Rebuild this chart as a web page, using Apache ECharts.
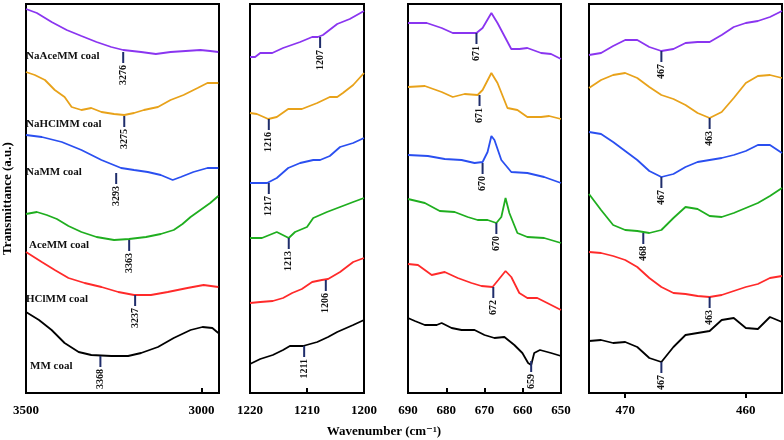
<!DOCTYPE html>
<html>
<head>
<meta charset="utf-8">
<script src="https://cdn.jsdelivr.net/npm/echarts@6/dist/echarts.min.js"></script>
<style>html,body{margin:0;padding:0;background:#fff}#c{width:784px;height:440px}</style>
</head>
<body>
<div id="c"></div>
<script>
// ---------- DATA ----------
const seriesNames = ['NaAceMM coal','NaHClMM coal','NaMM coal','AceMM coal','HClMM coal','MM coal'];
const seriesColors = ['#8a35f0','#e8a21a','#2a4ff0','#1fae1f','#ff2a2a','#000000'];

// Panel 1: 3500-2950 cm-1 (pairs: [wavenumber, transmittance a.u. incl. offset])
const oh_NaAceMM = [[3500,384],[3469,380],[3427,371],[3384,363],[3342,357],[3299,351],[3257,346],[3223,343],[3172,341],[3130,339],[3088,341],[3045,342],[3003,343],[2975,342],[2952,341]];
const oh_NaHClMM = [[3500,321],[3475,318],[3446,313],[3418,303],[3390,296],[3370,286],[3342,283],[3314,285],[3285,281],[3249,279],[3220,278],[3192,280],[3164,283],[3124,286],[3088,293],[3051,298],[3011,305],[2983,310],[2952,310]];
const oh_NaMM = [[3500,258],[3455,256],[3398,251],[3342,243],[3285,233],[3229,225],[3192,223],[3153,221],[3116,218],[3082,213],[3059,216],[3023,221],[2983,225],[2952,225]];
const oh_AceMM = [[3500,179],[3469,181],[3441,178],[3412,174],[3379,167],[3342,161],[3299,156],[3249,153],[3206,154],[3158,156],[3116,159],[3079,163],[3054,169],[3031,176],[3003,183],[2975,190],[2952,197]];
const oh_HClMM = [[3500,141],[3455,131],[3418,123],[3379,115],[3333,110],[3285,106],[3237,101],[3192,98],[3144,98],[3096,101],[3040,105],[2994,108],[2952,106]];
const oh_MM = [[3500,81],[3463,73],[3427,63],[3390,50],[3350,41],[3314,38],[3257,37],[3209,37],[3172,40],[3124,46],[3079,55],[3031,63],[2997,66],[2969,65],[2952,60]];
const oh_marks = [[3223,341,'3276'],[3220,277,'3275'],[3243,220,'3293'],[3206,153,'3363'],[3189,98,'3237'],[3288,37,'3368']];

// Panel 2: 1220-1200 cm-1
const ca_NaAceMM = [[1220,336],[1219.1,336],[1218.2,340],[1216.1,340],[1214.2,345],[1211.2,351],[1209.1,356],[1208.1,356],[1207.2,358],[1204.7,369],[1202.5,374],[1200,382]];
const ca_NaHClMM = [[1220,280],[1218.8,279],[1216.8,274],[1215.3,276],[1213.3,284],[1210.9,284],[1208.2,290],[1206,296],[1204.7,296],[1203.7,300],[1201.9,308],[1200,320]];
const ca_NaMM = [[1220,210],[1217,210],[1215.3,215],[1213.3,225],[1211.2,230],[1208.9,233],[1207.7,233],[1206,237],[1204.2,246],[1201.9,250],[1200,255]];
const ca_AceMM = [[1220,155],[1217.9,155],[1215.3,161],[1213.2,155],[1212.1,161],[1210,166],[1208.9,175],[1206.5,181],[1204.2,186],[1201.9,191],[1200,195]];
const ca_HClMM = [[1220,90],[1218.2,91],[1216,92],[1214.2,95],[1212.6,100],[1210.9,104],[1209.1,111],[1207.4,113],[1206.3,114],[1204.2,121],[1201.9,131],[1200,135]];
const ca_MM = [[1220,29],[1218.2,34],[1216,38],[1214.2,43],[1213,47],[1210.7,47],[1208.2,51],[1206.3,56],[1204.7,61],[1201.9,68],[1200,73]];
const ca_marks = [[1207.7,356,'1207'],[1216.7,274,'1216'],[1216.7,210,'1217'],[1213.2,155,'1213'],[1206.7,113,'1206'],[1210.5,47,'1211']];

// Panel 3: 690-650 cm-1
const cs_NaAceMM = [[690,370],[685.1,370],[681.2,365],[678.3,360],[674.7,360],[672.1,360],[670.5,365],[668.2,380],[666.6,370],[663,344],[660.9,344],[658.8,345],[655.2,340],[652.6,339],[650,334]];
const cs_NaHClMM = [[690,306],[685.6,307],[681.2,301],[678.3,296],[675.2,299],[671.8,298],[670.5,303],[668.2,320],[666.6,310],[664,285],[661.4,283],[658.8,276],[655.2,276],[653.1,277],[650,274]];
const cs_NaMM = [[690,238],[684.8,237],[680.4,234],[676,233],[672.6,230],[670.5,231],[669.2,241],[668.2,257],[667.4,253],[665.6,233],[663,221],[658.8,220],[654.4,216],[650,210]];
const cs_AceMM = [[690,194],[685.6,190],[681.7,182],[677.8,181],[674.4,176],[671.8,173],[669.2,173],[666.9,170],[665.6,176],[664.5,195],[663.5,180],[661.4,160],[658.8,156],[654.4,155],[650,150]];
const cs_HClMM = [[690,129],[687.4,128],[683.8,118],[680.4,121],[677,115],[673.4,110],[670.8,107],[667.9,106],[666.4,113],[664.5,122],[663,116],[660.9,100],[658.8,95],[656.2,95],[653.6,90],[650,83]];
const cs_MM = [[690,75],[688.2,72],[685.6,68],[682.5,68],[681.2,70],[678.6,65],[676,63],[672.6,63],[670,58],[667.4,55],[664.8,56],[662.2,48],[660.1,40],[658.6,30],[657.8,28],[657,40],[655.5,43],[652.6,40],[650,37]];
const cs_marks = [[672.1,360,'671'],[671.3,298,'671'],[670.5,230,'670'],[666.9,170,'670'],[667.7,106,'672'],[657.8,32,'659']];

// Panel 4: 473-457 cm-1
const ml_x = [473,472,471,470,469,468,467,466,465,464,463,462,461,460,459,458,457];
const ml_NaAceMM = [338,340,347,353,353,346,342,344,350,351,351,358,366,370,372,376,382];
const ml_NaHClMM = [305,313,318,320,315,306,298,294,288,280,275,281,295,310,317,318,315];
const ml_NaMM = [261,259,251,242,233,222,216,219,226,231,233,235,238,242,248,248,240];
const ml_AceMM = [199,183,168,163,162,160,163,175,186,184,177,176,180,185,190,197,205];
const ml_HClMM = [141,140,137,133,126,115,106,100,99,97,96,98,102,106,109,115,117];
const ml_MM = [52,53,50,51,46,35,31,46,58,60,62,73,75,65,64,76,71];
const ml_marks = [[467,342,'467'],[463,275,'463'],[467,216,'467'],[468.5,160,'468'],[463,96,'463'],[467,31,'467']];

// tick labels
const ticks1 = [3000,3500];
const ticks4 = [460,470];

// ---------- CHART ----------
const chart = echarts.init(document.getElementById('c'), null, {renderer:'canvas'});
const SERIF = '"Liberation Serif","DejaVu Serif",serif';
const panels = [
  {left:24, width:195, min:2950, max:3500, data:[oh_NaAceMM,oh_NaHClMM,oh_NaMM,oh_AceMM,oh_HClMM,oh_MM], marks:oh_marks, custom:ticks1, tickInside:true},
  {left:250, width:114, min:1200, max:1220, interval:10, data:[ca_NaAceMM,ca_NaHClMM,ca_NaMM,ca_AceMM,ca_HClMM,ca_MM], marks:ca_marks, tickInside:true},
  {left:408, width:153, min:650, max:690, interval:10, data:[cs_NaAceMM,cs_NaHClMM,cs_NaMM,cs_AceMM,cs_HClMM,cs_MM], marks:cs_marks, tickInside:true},
  {left:589, width:193, min:457, max:473, data:[ml_NaAceMM,ml_NaHClMM,ml_NaMM,ml_AceMM,ml_HClMM,ml_MM].map(ys=>ys.map((y,i)=>[ml_x[i],y])), marks:ml_marks, custom:ticks4, tickInside:false}
];

const grid=[], xAxis=[], yAxis=[], series=[];
panels.forEach((p,i)=>{
  grid.push({left:p.left, width:p.width, top:4, height:389, show:true, borderColor:'#000', borderWidth:2, backgroundColor:'transparent'});
  const xa = {type:'value', gridIndex:i, inverse:true, min:p.min, max:p.max,
    axisLine:{show:true, onZero:false, lineStyle:{color:'#000', width:2}},
    axisTick:{show:true, inside:p.tickInside, length:5, lineStyle:{color:'#000', width:2}},
    axisLabel:{color:'#000', fontFamily:SERIF, fontWeight:'bold', fontSize:13, margin:11, showMinLabel:true, showMaxLabel:true,
      formatter:(v)=>String(v)},
    splitLine:{show:false}};
  if (p.interval) xa.interval = p.interval;
  if (p.custom) { xa.axisLabel.customValues = p.custom; xa.axisTick.customValues = p.custom; }
  xAxis.push(xa);
  const ya = {type:'value', gridIndex:i, min:0, max:389, axisLine:{show:false}, axisTick:{show:false}, axisLabel:{show:false}, splitLine:{show:false}};
  if (i===0) {
    Object.assign(ya, {name:'Transmittance (a.u.)', nameLocation:'middle', nameRotate:90, nameGap:12,
      nameTextStyle:{color:'#000', fontFamily:SERIF, fontWeight:'bold', fontSize:13}});
  }
  yAxis.push(ya);
  p.data.forEach((d,k)=>{
    series.push({type:'line', name:seriesNames[k], xAxisIndex:i, yAxisIndex:i, data:d, showSymbol:false, symbol:'none',
      lineStyle:{color:seriesColors[k], width:1.8}, z:2, silent:true});
  });
  series.push({type:'custom', xAxisIndex:i, yAxisIndex:i, data:p.marks, clip:false, z:5, silent:true,
    encode:{x:0,y:1},
    renderItem:(params, api)=>{
      const pt = api.coord([api.value(0), api.value(1)]);
      const lbl = p.marks[params.dataIndex][2];
      return {type:'group', children:[
        {type:'line', shape:{x1:pt[0], y1:pt[1], x2:pt[0], y2:pt[1]+11}, style:{stroke:'#1f2d6b', lineWidth:2}},
        {type:'text', x:pt[0], y:pt[1]+13, rotation:Math.PI/2,
          style:{text:lbl, align:'right', verticalAlign:'middle', fill:'#111', font:'bold 10px '+SERIF}}
      ]};
    }});
});

const nameLabels = [
  {x:26, y:56, t:'NaAceMM coal'},
  {x:26, y:124, t:'NaHClMM coal'},
  {x:26, y:172, t:'NaMM coal'},
  {x:29, y:245, t:'AceMM coal'},
  {x:26, y:299, t:'HClMM coal'},
  {x:30, y:366, t:'MM coal'}
];

chart.setOption({
  animation:false,
  backgroundColor:'#fff',
  grid, xAxis, yAxis, series,
  graphic: nameLabels.map(l=>({type:'text', x:l.x, y:l.y, silent:true, z:10,
      style:{text:l.t, fill:'#111', font:'bold 11px '+SERIF, align:'left', verticalAlign:'middle'}}))
    .concat([{type:'text', x:384, y:432, silent:true,
      style:{text:'Wavenumber (cm⁻¹)', fill:'#000', font:'bold 13px '+SERIF, align:'center', verticalAlign:'middle'}}])
});
</script>
</body>
</html>
